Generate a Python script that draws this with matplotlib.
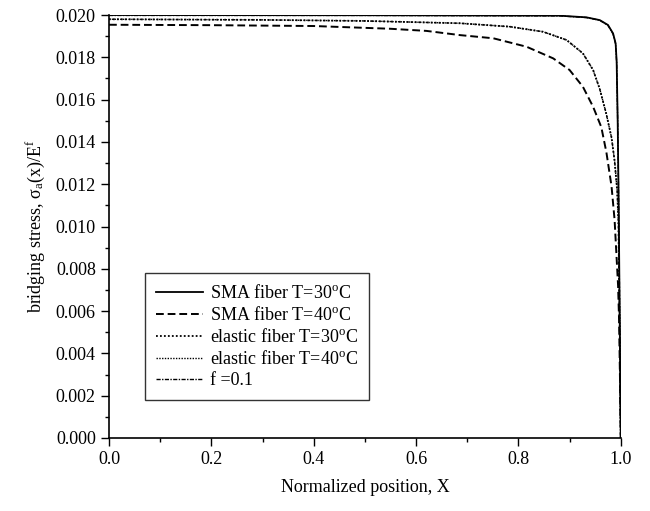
import numpy as np
import matplotlib
matplotlib.use('Agg')
import matplotlib.pyplot as plt
from matplotlib.ticker import MultipleLocator, FormatStrFormatter

plt.rcParams['font.family'] = ['Liberation Serif', 'DejaVu Serif']
plt.rcParams['mathtext.fontset'] = 'custom'
plt.rcParams['mathtext.rm'] = 'Liberation Serif'
plt.rcParams['mathtext.it'] = 'Liberation Serif:italic'

# values (denser near the crack tip at X=1)
x_sma_30 = [0.0, 0.5, 0.88, 0.933, 0.959, 0.975, 0.985, 0.990, 0.992, 0.994, 0.996, 0.998, 0.999, 1.0]
sma_30 = [0.02000, 0.01999, 0.01997, 0.01989, 0.01976, 0.01953, 0.01913, 0.01866, 0.01780,
          0.01500, 0.01100, 0.00560, 0.00280, 0.0]

x_sma_40 = [0.0, 0.2, 0.4, 0.55, 0.62, 0.686, 0.751, 0.816, 0.868, 0.900, 0.926, 0.946, 0.962,
            0.972, 0.982, 0.988, 0.9915, 0.9948, 0.9967, 0.9985, 1.0]
sma_40 = [0.01954, 0.01952, 0.01948, 0.01935, 0.01925, 0.01905, 0.01890, 0.01850, 0.01795,
          0.01740, 0.01661, 0.01566, 0.01470, 0.01350, 0.01190, 0.01030, 0.00870, 0.00720,
          0.00560, 0.00280, 0.0]

x_elastic = [0.0, 0.3, 0.5, 0.686, 0.783, 0.848, 0.894, 0.926, 0.946, 0.959, 0.972, 0.982,
             0.988, 0.993, 0.9955, 0.998, 1.0]
elastic_30 = [0.01980, 0.01977, 0.01972, 0.01961, 0.01945, 0.01921, 0.01882, 0.01819, 0.01740,
              0.01650, 0.01530, 0.01420, 0.01310, 0.01170, 0.01020, 0.00500, 0.0]
elastic_40 = [0.01980, 0.01977, 0.01972, 0.01961, 0.01945, 0.01921, 0.01882, 0.01819, 0.01740,
              0.01650, 0.01530, 0.01420, 0.01310, 0.01170, 0.01020, 0.00500, 0.0]

x_f01 = [0.0, 0.5, 0.88, 0.933, 0.959, 0.975, 0.985, 0.990, 0.992, 0.994, 0.996, 0.998, 0.999, 1.0]
f_01 = [0.01998, 0.01998, 0.01996, 0.01988, 0.01975, 0.01951, 0.01910, 0.01862, 0.01775,
        0.01495, 0.01095, 0.00555, 0.00275, 0.0]

labels = ['SMA fiber T=30$^{\\rm o}$C', 'SMA fiber T=40$^{\\rm o}$C',
          'elastic fiber T=30$^{\\rm o}$C', 'elastic fiber T=40$^{\\rm o}$C', 'f =0.1']

fig = plt.figure(figsize=(6.5, 5.11), dpi=100)
ax = fig.add_axes([0.1677, 0.1429, 0.7873, 0.8277])

ax.plot(x_sma_30, sma_30, color='black', lw=1.3, ls='-', label=labels[0])
ax.plot(x_sma_40, sma_40, color='black', lw=1.4, ls=(0, (4, 2)), label=labels[1])
ax.plot(x_elastic, elastic_30, color='black', lw=1.3, ls=(0, (1, 1.2)), label=labels[2])
ax.plot(x_elastic, elastic_40, color='black', lw=1.0, ls=(0, (1, 1)), label=labels[3])
ax.plot(x_f01, f_01, color='black', lw=1.0, ls=(0, (3, 1, 1, 1)), label=labels[4])

ax.set_xlim(0.0, 1.0)
ax.set_ylim(0.0, 0.020)
ax.xaxis.set_major_locator(MultipleLocator(0.2))
ax.xaxis.set_minor_locator(MultipleLocator(0.1))
ax.yaxis.set_major_locator(MultipleLocator(0.002))
ax.yaxis.set_minor_locator(MultipleLocator(0.001))
ax.xaxis.set_major_formatter(FormatStrFormatter('%.1f'))
ax.yaxis.set_major_formatter(FormatStrFormatter('%.3f'))
ax.tick_params(which='major', direction='out', length=6, width=1, labelsize=13)
ax.tick_params(which='minor', direction='out', length=3, width=1)
ax.spines['top'].set_visible(False)
ax.spines['right'].set_visible(False)
ax.spines['left'].set_linewidth(1.2)
ax.spines['bottom'].set_linewidth(1.2)

ax.set_xlabel('Normalized position, X', fontsize=13, labelpad=8)
ax.set_ylabel('bridging stress, σ$_{\\rm a}$(x)/E$^{\\rm f}$', fontsize=13, labelpad=6)

leg = ax.legend(loc='lower left', bbox_to_anchor=(0.0703, 0.09), borderaxespad=0, fontsize=13,
                frameon=True, fancybox=False, edgecolor='black', handlelength=2.6,
                labelspacing=0.22, borderpad=0.6, handletextpad=0.4)
leg.get_frame().set_linewidth(1.0)

fig.savefig('out.png', dpi=100)
